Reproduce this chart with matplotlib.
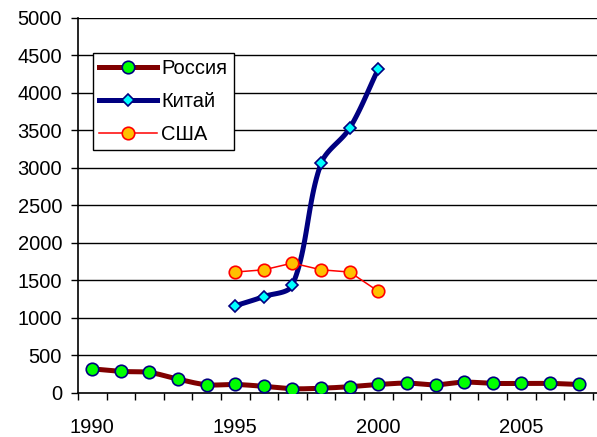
import numpy as np
import matplotlib
matplotlib.use('Agg')
import matplotlib.pyplot as plt

plt.rcParams['font.family'] = ['Liberation Sans', 'DejaVu Sans']

years_ru = list(range(1990, 2008))
russia = [318, 284, 270, 181, 106, 110, 85, 53, 60, 80, 110, 128, 106, 141, 124, 124, 124, 110]

years_cn = [1995, 1996, 1997, 1998, 1999, 2000]
china = [1160, 1283, 1438, 3060, 3530, 4320]

years_us = [1995, 1996, 1997, 1998, 1999, 2000]
usa = [1610, 1640, 1730, 1640, 1610, 1353]

labels = ['Россия', 'Китай', 'США']
xtick_years = [1990, 1995, 2000, 2005]

XS, YS = 28.6, 374.7 / 5000  # px per year, px per unit


def smooth(x, y, n=24):
    # bezier through the points, tangents weighted by chord length (Excel-like smoothing)
    p = np.column_stack([np.asarray(x, float) * XS, np.asarray(y, float) * YS])
    m = len(p)
    xs, ys = [], []
    t = np.linspace(0, 1, n)[:, None]
    for i in range(m - 1):
        a, b = p[i], p[i + 1]
        d = np.linalg.norm(b - a)
        if i > 0:
            dp = np.linalg.norm(a - p[i - 1])
            c1 = a + (b - p[i - 1]) * d / (dp + d) / 3 * 1.0
        else:
            c1 = a + (b - a) / 3
        if i + 2 < m:
            dn = np.linalg.norm(p[i + 2] - b)
            c2 = b - (p[i + 2] - a) * d / (d + dn) / 3 * 1.0
        else:
            c2 = b - (b - a) / 3
        seg = ((1 - t) ** 3) * a + 3 * ((1 - t) ** 2) * t * c1 + 3 * (1 - t) * t ** 2 * c2 + t ** 3 * b
        xs.extend(seg[:, 0] / XS)
        ys.extend(seg[:, 1] / YS)
    return xs, ys


fig = plt.figure(figsize=(5.97, 4.37), dpi=100)
ax = fig.add_axes([78 / 597, 44.3 / 437, 1 - 78 / 597, 374.7 / 437])

for yv in range(500, 5001, 500):
    ax.axhline(yv, color='black', linewidth=1, zorder=1)

sx, sy = smooth(years_ru, russia)
ax.plot(sx, sy, color='#800000', linewidth=3.6, zorder=2, solid_capstyle='butt')
ax.plot(years_ru, russia, linestyle='none', marker='o', markersize=9,
        markerfacecolor='#00FF00', markeredgecolor='#000080', markeredgewidth=1.2, zorder=3)

sx, sy = smooth(years_cn, china)
ax.plot(sx, sy, color='#000080', linewidth=3.6, zorder=4)
ax.plot(years_cn, china, linestyle='none', marker='D', markersize=6.5,
        markerfacecolor='#00FFFF', markeredgecolor='#000080', markeredgewidth=1.2, zorder=5)

ax.plot(years_us, usa, color='#FF0000', linewidth=1.1, marker='o', markersize=9,
        markerfacecolor='#FFC000', markeredgecolor='#FF0000', markeredgewidth=1.2, zorder=4)

# legend proxies
h1, = ax.plot([], [], color='#800000', linewidth=3.6, marker='o', markersize=9,
              markerfacecolor='#00FF00', markeredgecolor='#000080', markeredgewidth=1.2)
h2, = ax.plot([], [], color='#000080', linewidth=3.6, marker='D', markersize=6.5,
              markerfacecolor='#00FFFF', markeredgecolor='#000080', markeredgewidth=1.2)
h3, = ax.plot([], [], color='#FF0000', linewidth=1.1, marker='o', markersize=9,
              markerfacecolor='#FFC000', markeredgecolor='#FF0000', markeredgewidth=1.2)
leg = ax.legend([h1, h2, h3], labels, loc='upper left',
                bbox_to_anchor=(93 / 597, 1 - 53 / 437), bbox_transform=fig.transFigure,
                fontsize=14.5, frameon=True, fancybox=False, framealpha=1,
                edgecolor='black', handlelength=2.9, handletextpad=0.2,
                labelspacing=0.7, borderpad=0.3, borderaxespad=0, numpoints=1)
leg.get_frame().set_linewidth(1)

ax.set_xlim(1989.5, 1989.5 + (597 - 78) / XS)
ax.set_ylim(0, 5000)
ax.set_yticks(range(0, 5001, 500))
ax.set_xticks([y - 0.5 for y in years_ru] + [2007.5])
ax.set_xticklabels([])
ax.set_xticks(xtick_years, minor=True)
ax.set_xticklabels([str(y) for y in xtick_years], minor=True)
ax.tick_params(axis='x', which='minor', length=0, pad=18, labelsize=14.5)
ax.tick_params(axis='x', which='major', direction='out', length=5, width=1)
ax.tick_params(axis='y', direction='out', length=5, width=1, labelsize=14.5, pad=6.5)

for s in ['top', 'right']:
    ax.spines[s].set_visible(False)
ax.spines['left'].set_linewidth(1.2)
ax.spines['bottom'].set_linewidth(1.2)

fig.savefig('out.png', dpi=100)
